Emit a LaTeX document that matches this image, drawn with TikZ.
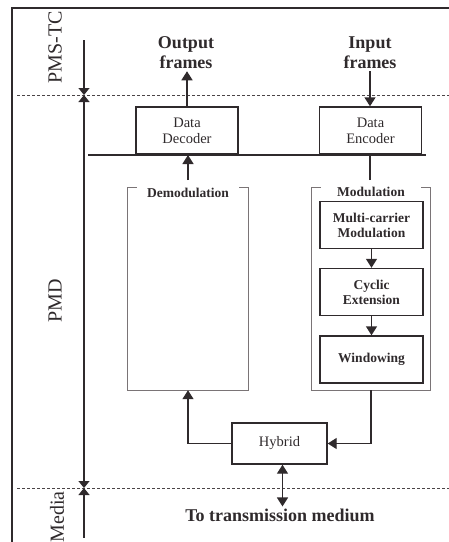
\documentclass[tikz,border=0pt]{standalone}
\usepackage{fontspec}
\setmainfont{Liberation Serif}
\usetikzlibrary{arrows.meta,calc}
\definecolor{ink}{HTML}{2F2A2C}
\definecolor{brk}{HTML}{7A7476}
\definecolor{rul}{HTML}{4A4446}
\tikzset{
  arr/.style={-{Triangle[length=9pt,width=11pt]}, line width=1.4pt, ink},
  darr/.style={{Triangle[length=9pt,width=11pt]}-{Triangle[length=9pt,width=11pt]}, line width=1.4pt, ink},
  ln/.style={line width=1.4pt, ink},
  rail/.style={rul, line width=0.9pt, dash pattern=on 3pt off 2pt},
  blk/.style={draw=ink, line width=1.4pt, text=ink, align=center, inner sep=2pt},
  grp/.style={minimum height=202pt, inner sep=0pt},
  biglab/.style={font=\fontsize{18}{20}\selectfont\bfseries, text=ink, align=center, inner sep=2pt},
  boxlab/.style={font=\fontsize{13.5}{15}\selectfont\bfseries, text=ink, align=center},
  declab/.style={font=\fontsize{14.5}{16}\selectfont},
  sidelab/.style={font=\fontsize{20}{22}\selectfont, text=ink, rotate=90},
}
\begin{document}
\begin{tikzpicture}[x=1pt,y=1pt,
  stage/.style={blk, boxlab, minimum width=103pt, minimum height=47pt},
  codec/.style={blk, declab, minimum width=102pt, minimum height=47pt},
  axdown/.style={-{Triangle[length=7pt,width=11pt]}, line width=1.3pt, ink},
  axboth/.style={{Triangle[length=7pt,width=11pt]}-{Triangle[length=7pt,width=11pt]}, line width=1.3pt, ink},
  axup/.style={{Triangle[length=7pt,width=11pt]}-, line width=1.3pt, ink}]
\useasboundingbox (0,0) rectangle (449,-542);

% ---- frame and layer borders -------------------------------------------------
\draw[ink, line width=1.6pt] (449,-8) -- (12,-8) -- (12,-542);
\draw[rail] (17,-95) -- (449,-95);
\draw[rail] (17,-488) -- (449,-488);
% ---- layer axis --------------------------------------------------------------
\coordinate (axT) at (84,-40);
\coordinate (axA) at (84,-95);
\coordinate (axB) at (84,-488);
\coordinate (axE) at (84,-538);
\draw[axdown] (axT) -- (axA);
\draw[axboth] (axA) -- (axB);
\draw[axup] (axB) -- (axE);
\node[sidelab] (pmstc) at (55,-47)  {PMS-TC};
\node[sidelab] (pmd)   at (55,-301) {PMD};
\node[sidelab] (media) at (57,-517) {Media};

% ---- frames and codec --------------------------------------------------------
\node[biglab] (outf) at (186,-53) {Output\\frames};
\node[biglab] (inf)  at (370,-53) {Input\\frames};
\node[codec] (dec) at (187,-130.5) {Data\\Decoder};
\node[codec] (enc) at (370.5,-130.5) {Data\\Encoder};
\draw[arr] (dec.north) -- (dec.north |- outf.south);
\draw[arr] (inf.south) -- (inf.south |- enc.north);
\coordinate (busL) at (88,-155);
\coordinate (busR) at (426,-155);
\draw[ln] (busL) -- (busR);

% ---- demodulation / modulation groups ---------------------------------------
\node[grp, minimum width=120pt] (demod) at (188,-289) {};
\node[grp, minimum width=118pt] (mod)   at (371,-289) {};
\foreach \g in {demod,mod}{
  \draw[brk, line width=1pt] ($(\g.north west)+(9,0)$) -- (\g.north west)
    -- (\g.south west) -- (\g.south east) -- (\g.north east) -- ($(\g.north east)+(-9,0)$);
}
\node[boxlab] (demodT) at ($(demod.north)+(0,-5)$) {Demodulation};
\node[boxlab] (modT)   at ($(mod.north)+(0,-4)$)   {Modulation};
\coordinate (dmTop) at (188,-180);
\coordinate (mdTop) at (370,-180);
\draw[arr] (dmTop) -- (dmTop |- busL);
\draw[ln] (mdTop) -- (mdTop |- busL);

\node[stage] (mc)  at (371.5,-225)   {Multi-carrier\\Modulation};
\node[stage] (cyc) at (371.5,-292)   {Cyclic\\Extension};
\node[stage] (win) at (371.5,-359.5) {Windowing};
\draw[arr] (mc) -- (cyc);
\draw[arr] (cyc) -- (win);

% ---- hybrid and medium -------------------------------------------------------
\node[blk, declab, minimum width=95pt, minimum height=41pt] (hyb) at (279.5,-443.5) {Hybrid};
\draw[arr] (hyb.west) -| (demod.south);
\draw[arr] (mod.south) |- (hyb.east);
\node[biglab] (med) at (280,-515) {To transmission medium};
\draw[darr] ([xshift=3pt]hyb.south) -- ([xshift=3pt]hyb.south |- med.north);

\end{tikzpicture}
\end{document}
